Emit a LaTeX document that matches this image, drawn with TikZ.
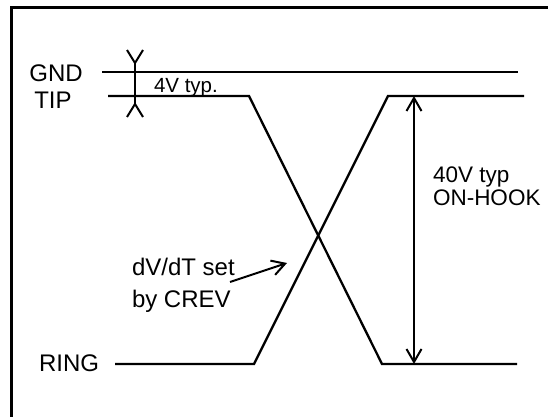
\documentclass[tikz,border=0pt]{standalone}
\usepackage{fontspec}
\setmainfont{Liberation Sans}
\usetikzlibrary{positioning,arrows.meta}

\begin{document}
\begin{tikzpicture}[%
		x=1pt,
		y=-1pt,
		line width=2pt,
		>={Straight Barb[length=13pt,width=15pt]},
		sig/.style={%
			line width=2.3pt
		},
		lbl/.style={%
			font=\fontsize{24}{27}\selectfont,
			inner sep=0pt,
			anchor=base west
		},
		side/.style={%
			font=\fontsize{22.5}{25}\selectfont,
			inner sep=0pt,
			anchor=base west
		},
		note/.style={%
			font=\fontsize{20.5}{23}\selectfont,
			inner sep=0pt,
			anchor=base west
		}
		]
		\useasboundingbox (0,0) rectangle (548,417);
		% frame
		\draw[line width=3pt] (11,417) -- (11,8) -- (548,8);
		
		% levels and edges
		\coordinate (g1) at (102,72);
		\coordinate (g2) at (518,72);
		\coordinate (t1) at (108,96);
		\coordinate (t2) at (249,96);
		\coordinate (t3) at (388,96);
		\coordinate (t4) at (524,96);
		\coordinate (r1) at (115,364);
		\coordinate (r2) at (254,364);
		\coordinate (r3) at (382,364);
		\coordinate (r4) at (517,364);
		
		\draw[sig] (g1) -- (g2);
		\draw[sig] (t1) -- (t2) -- (r3) -- (r4);
		\draw[sig] (r1) -- (r2) -- (t3) -- (t4);
		
		% labels
		\node[lbl, anchor=base] (gnd) at (56,82)  {GND};
		\node[lbl, anchor=base] (tip) at (53,108) {TIP};
		\node[lbl]              (ring) at (38,371) {RING};
		\node[note]             (typ4) at (153,93) {4V typ.};
		\node[side]             (typ40) at (432,182) {40V typ};
		\node[side]             (onhook) at ([yshift=-23pt]typ40.base west) {ON-HOOK};
		\node[lbl]              (dvdt) at (131,275) {dV/dT set};
		\node[lbl]              (crev) at ([yshift=-32pt]dvdt.base west) {by CREV};
		
		% 4V mark
		\coordinate (d1) at (135,63);
		\coordinate (d2) at (135,104);
		\draw (d1) -- (d2);
		\draw (127,50) -- (d1) -- (143,50);
		\draw (127,117) -- (d2) -- (143,117);
		
		% 40V span
		\coordinate (s1) at (414,96);
		\coordinate (s2) at (414,364);
		\draw[<->] (s1) -- (s2);
		
		% slope pointer
		\coordinate (tail) at (230,282);
		\coordinate (slope) at (287,263);
		\draw[->] (tail) -- (slope);
\end{tikzpicture}
\end{document}
